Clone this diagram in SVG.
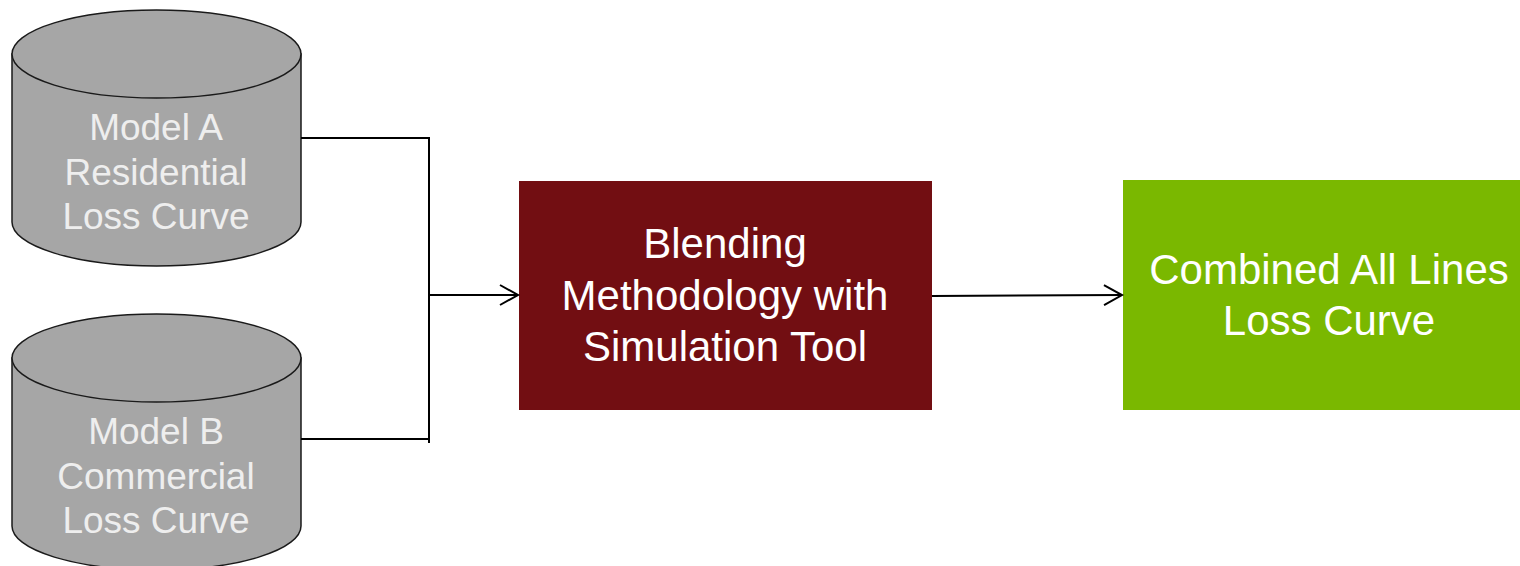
<svg xmlns="http://www.w3.org/2000/svg" width="1520" height="566" viewBox="0 0 1520 566">
<style>
.cyl{fill:#a6a6a6;stroke:#1a1a1a;stroke-width:1.5}
.cyltxt{font-family:"Liberation Sans",Arial,sans-serif;font-size:37px;fill:#eeeeee;text-anchor:middle}
.boxtxt{font-family:"Liberation Sans",Arial,sans-serif;font-size:42px;fill:#ffffff;text-anchor:middle}
.conn{fill:none;stroke:#000;stroke-width:2}
</style>
<defs>
<marker id="arr" markerUnits="userSpaceOnUse" markerWidth="24" markerHeight="26" refX="20" refY="12" orient="auto">
<path d="M2,2 L20,12 L2,22" fill="none" stroke="#000" stroke-width="2"/>
</marker>
</defs>
<rect width="1520" height="566" fill="#ffffff"/>
<g id="modelA">
<path class="cyl" d="M12,54 L12,222 A144.5,44 0 0 0 301,222 L301,54 Z"/>
<ellipse class="cyl" cx="156.5" cy="54" rx="144.5" ry="44"/>
<text class="cyltxt" x="156" y="140">Model A</text>
<text class="cyltxt" x="156" y="185">Residential</text>
<text class="cyltxt" x="156" y="229">Loss Curve</text>
</g>
<g id="modelB">
<path class="cyl" d="M12,358 L12,526 A144.5,44 0 0 0 301,526 L301,358 Z"/>
<ellipse class="cyl" cx="156.5" cy="358" rx="144.5" ry="44"/>
<text class="cyltxt" x="156" y="444">Model B</text>
<text class="cyltxt" x="156" y="489">Commercial</text>
<text class="cyltxt" x="156" y="533">Loss Curve</text>
</g>
<g id="blending">
<rect x="519" y="181" width="413" height="229" fill="#720e12"/>
<text class="boxtxt" x="725" y="258">Blending</text>
<text class="boxtxt" x="725" y="310">Methodology with</text>
<text class="boxtxt" x="725" y="361">Simulation Tool</text>
</g>
<g id="combined">
<rect x="1123" y="180" width="397" height="230" fill="#7ab800"/>
<text class="boxtxt" x="1329" y="284">Combined All Lines</text>
<text class="boxtxt" x="1329" y="335">Loss Curve</text>
</g>
<g id="connectors">
<path class="conn" d="M301,138 L428,138"/>
<path class="conn" d="M301,439 L428,439"/>
<path class="conn" d="M429,137 L429,443"/>
<path class="conn" d="M428,295 L518,295" marker-end="url(#arr)"/>
<path class="conn" d="M932,296 L1122,295" marker-end="url(#arr)"/>
</g>
</svg>
